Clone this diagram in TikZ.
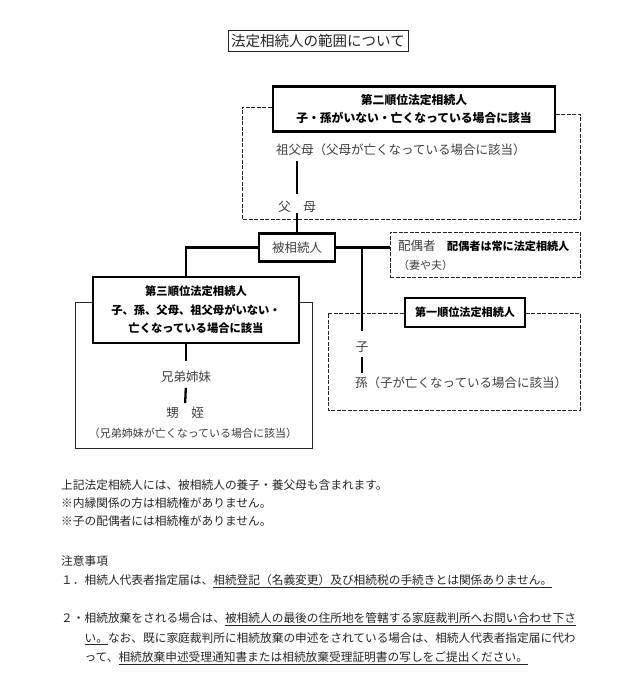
\documentclass[tikz,border=0pt]{standalone}
\usepackage{fontspec}
\setmainfont{Noto Sans CJK JP}
\begin{document}
\begin{tikzpicture}[x=1pt,y=-1pt,
  thickbox/.style={draw=black, line width=2.6pt, inner sep=0pt, align=center, font=\bfseries\fontsize{11.5}{18}\selectfont},
  conn/.style={line width=2.3pt, draw=black},
  frame/.style={line width=0.9pt, dash pattern=on 4pt off 1.5pt, draw=black!85},
  thinframe/.style={line width=0.9pt, draw=black!85},
  lbl/.style={inner sep=0pt, text=black!75, font=\fontsize{12.5}{15}\selectfont},
  small/.style={inner sep=0pt, text=black!75, font=\fontsize{11}{13}\selectfont},
  note/.style={inner sep=0pt, anchor=west, text=black!85, font=\fontsize{11.7}{14}\selectfont},
]
\useasboundingbox[fill=white] (0,0) rectangle (636,700);

% title
\node[draw=black!85, line width=0.8pt, minimum width=180pt, minimum height=21pt, inner sep=0pt,
      text=black!85, font=\fontsize{14.5}{17}\selectfont] (title) at (318,40.5) {法定相続人の範囲について};

% second order
\node[thickbox, minimum width=282pt, minimum height=45pt, font=\bfseries\fontsize{11.8}{18}\selectfont] (second) at (414,109) {第二順位法定相続人\\子・孫がいない・亡くなっている場合に該当};
\draw[frame] (second.west |- 0,107) -- (242,107) -- (242,219) -- (580,219) -- (580,114) -- (second.east |- 0,114);
\node[lbl, anchor=west] (gp) at (276,150) {祖父母（父母が亡くなっている場合に該当）};
\node[lbl] (parents) at (297,207) {父　母};

% deceased
\node[draw=black, line width=2.3pt, minimum width=76pt, minimum height=28pt, inner sep=0pt,
      text=black!75, font=\fontsize{12.5}{15}\selectfont] (dec) at (297,247.5) {被相続人};

% third order
\node[thickbox, minimum width=206pt, minimum height=66pt, font=\bfseries\fontsize{11.3}{18.5}\selectfont] (third) at (196,310) {第三順位法定相続人\\子、孫、父母、祖父母がいない・\\亡くなっている場合に該当};
\draw[thinframe] (third.west |- 0,302) -- (75,302) -- (75,448) -- (312,448) -- (312,302) -- (third.east |- 0,302);
\node[lbl] (sib) at (186,377) {兄弟姉妹};
\node[lbl] (neph) at (185,413) {甥　姪};
\node[small] (nephnote) at (193,433) {（兄弟姉妹が亡くなっている場合に該当）};

% spouse
\node[frame, draw, minimum width=190pt, minimum height=45pt, inner sep=0pt] (spouse) at (485,254.5) {};
\node[lbl, anchor=west] (sp1) at (398,246) {配偶者};
\node[inner sep=0pt, anchor=west, font=\bfseries\fontsize{11.1}{13}\selectfont] (sp2) at (447,246) {配偶者は常に法定相続人};
\node[small, anchor=west] (sp3) at (398,265) {（妻や夫）};

% first order
\node[thickbox, minimum width=120pt, minimum height=29pt, font=\bfseries\fontsize{11.1}{13}\selectfont] (first) at (465,312.5) {第一順位法定相続人};
\draw[frame] (first.west |- 0,313) -- (328,313) -- (328,410) -- (580,410) -- (580,313) -- (first.east |- 0,313);
\node[lbl] (child) at (362,347) {子};
\node[lbl, anchor=west] (gc) at (355,383) {孫（子が亡くなっている場合に該当）};

% connectors
\draw[conn, shorten <=5pt, shorten >=7pt] (gp.south -| parents.north) -- (parents.north);
\draw[conn] (parents.south) -- (dec.north);
\draw[conn] (dec.west) -| ([xshift=-10pt]third.north);
\draw[conn, shorten >=10.5pt] (third.south -| sib.north) -- (sib.north);
\draw[conn, shorten <=5pt, shorten >=4pt] (sib.south) -- (neph.north);
\draw[conn] (dec.east) -- (dec.east -| spouse.west);
\coordinate (j) at (362,248);
\draw[conn, shorten >=10.5pt] (j) -- (child.north);
\draw[conn, shorten <=4pt, shorten >=4pt] (child.south) -- (child.south |- gc.north);

% notes
\node[note] (n1) at (61,485) {上記法定相続人には、被相続人の養子・養父母も含まれます。};
\node[note] (n2) at (61,503) {※内縁関係の方は相続権がありません。};
\node[note] (n3) at (61,521) {※子の配偶者には相続権がありません。};
\node[note] (n4) at (61,561) {注意事項};
\node[note] (n5) at (61,581) {１．相続人代表者指定届は、\underline{相続登記（名義変更）及び相続税の手続きとは関係ありません。}};
\node[note] (n6) at (61,619) {２・相続放棄をされる場合は、\underline{被相続人の最後の住所地を管轄する家庭裁判所へお問い合わせ下さ}};
\node[note] (n7) at (84.4,638.5) {\underline{い。}なお、既に家庭裁判所に相続放棄の申述をされている場合は、相続人代表者指定届に代わ};
\node[note] (n8) at (84.4,658) {って、\underline{相続放棄申述受理通知書または相続放棄受理証明書の写しをご提出ください。}};
\end{tikzpicture}
\end{document}
